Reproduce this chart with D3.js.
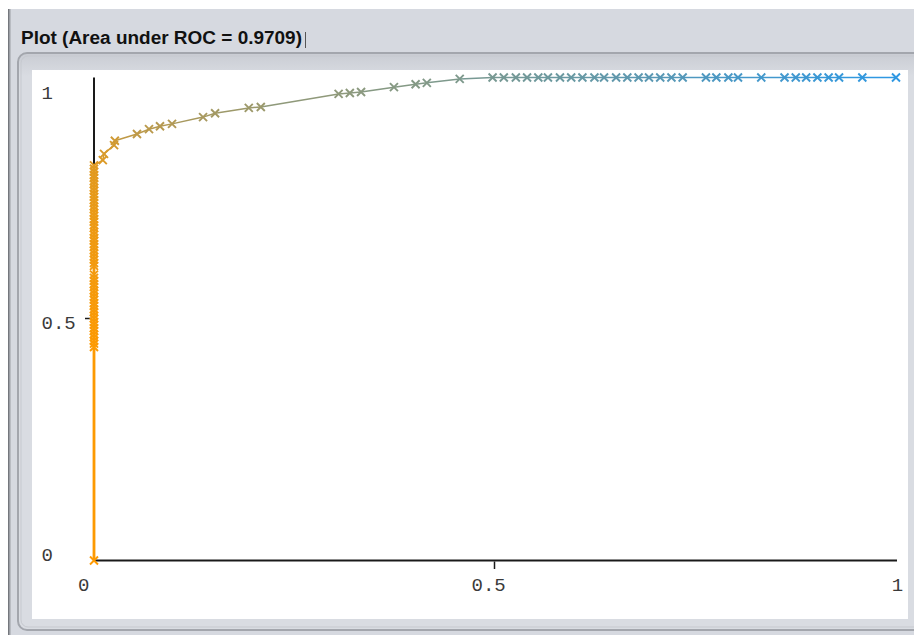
<!DOCTYPE html>
<html>
<head>
<meta charset="utf-8">
<script src="https://cdn.jsdelivr.net/npm/d3@7/dist/d3.min.js"></script>
<style>
  html, body { margin: 0; padding: 0; background: #ffffff; }
  svg { display: block; }
</style>
</head>
<body>
<svg id="chart" width="914" height="635"></svg>
<script>
// ---------------- data ----------------
const titleText = "Plot (Area under ROC = 0.9709)";

// first point of the curve (highest threshold)
const originPoint = { fpr: 0, tpr: 0, threshold: 1.0 };

// points on the vertical run at FPR = 0
const columnTpr = [
  0.442,0.449,0.455,0.462,0.468,0.475,0.481,0.488,0.494,0.501,0.507,0.514,
  0.520,0.527,0.533,0.540,0.546,0.553,0.559,0.566,0.572,0.579,0.585,0.592,
  0.610,0.616,0.623,0.629,0.636,0.642,0.649,0.655,0.662,0.668,0.675,0.681,
  0.688,0.694,0.701,0.707,0.714,0.720,0.727,0.733,0.740,0.746,0.753,0.759,
  0.766,0.772,0.779,0.785,0.792,0.798,0.805,0.811,0.818
];
const columnThreshold = [
  0.990,0.988,0.986,0.984,0.982,0.980,0.978,0.976,0.974,0.972,0.970,0.968,
  0.966,0.964,0.962,0.960,0.958,0.956,0.954,0.952,0.950,0.948,0.946,0.944,
  0.940,0.938,0.936,0.934,0.932,0.930,0.928,0.926,0.924,0.922,0.920,0.918,
  0.915,0.912,0.909,0.906,0.903,0.900,0.897,0.894,0.891,0.888,0.885,0.882,
  0.879,0.876,0.873,0.870,0.867,0.864,0.861,0.858,0.855
];

// remaining points of the curve
const curveFpr = [
  0.011,0.0125,0.025,0.026,
  0.0536,0.0686,0.0823,0.0973,0.136,0.151,0.193,0.208,
  0.305,0.319,0.333,0.374,0.401,0.415,0.456,
  0.497,0.511,0.526,0.540,0.554,0.566,0.581,0.595,0.609,0.624,0.636,0.651,
  0.665,0.679,0.692,0.706,0.720,0.734,
  0.763,0.776,0.791,0.803,0.832,0.861,0.875,0.888,0.902,0.916,0.929,0.958,1.0
];
const curveTpr = [
  0.829,0.842,0.860,0.869,
  0.883,0.893,0.899,0.904,0.918,0.926,0.937,0.939,
  0.966,0.968,0.970,0.980,0.986,0.989,0.997,
  1,1,1,1,1,1,1,1,1,1,1,1,
  1,1,1,1,1,1,
  1,1,1,1,1,1,1,1,1,1,1,1,1
];
const curveThreshold = [
  0.83,0.81,0.79,0.77,
  0.69,0.67,0.65,0.63,0.58,0.56,0.53,0.52,
  0.46,0.45,0.44,0.42,0.41,0.40,0.38,
  0.35,0.34,0.33,0.32,0.31,0.30,0.29,0.28,0.27,0.26,0.25,0.24,
  0.23,0.22,0.21,0.20,0.19,0.18,
  0.15,0.14,0.13,0.12,0.10,0.09,0.08,0.07,0.06,0.05,0.04,0.02,0.00
];

const xTickValues = [0, 0.5, 1];
const xTickLabels = ["0", "0.5", "1"];
const yTickValues = [0, 0.5, 1];
const yTickLabels = ["0", "0.5", "1"];

const lowColor = "#2f98e2";   // low threshold
const highColor = "#ff9a00";  // high threshold

// ---------------- build table ----------------
const points = [originPoint]
  .concat(columnTpr.map((t, i) => ({ fpr: 0, tpr: t, threshold: columnThreshold[i] })))
  .concat(curveFpr.map((f, i) => ({ fpr: f, tpr: curveTpr[i], threshold: curveThreshold[i] })));

// ---------------- layout ----------------
const svg = d3.select("#chart");
const W = 914, H = 635;

const x = d3.scaleLinear().domain([0, 1]).range([94, 896]);
const y = d3.scaleLinear().domain([0, 1]).range([560.5, 77.5]);
const color = d3.scaleLinear().domain([0, 1]).range([lowColor, highColor]).interpolate(d3.interpolateRgb);

// window background
svg.append("rect").attr("x", 0).attr("y", 0).attr("width", W).attr("height", H).attr("fill", "#ffffff");
svg.append("rect").attr("x", 9).attr("y", 9).attr("width", W - 9).attr("height", H - 9).attr("fill", "#d6d9e0");
svg.append("rect").attr("x", 8).attr("y", 9).attr("width", 1.6).attr("height", H - 9).attr("fill", "#74777d");
svg.append("rect").attr("x", 10).attr("y", 9).attr("width", 1).attr("height", H - 9).attr("fill", "#b9bcc2");

// title
svg.append("text")
  .attr("x", 21).attr("y", 44)
  .attr("font-family", "'Liberation Sans', Arial, sans-serif")
  .attr("font-weight", "bold")
  .attr("font-size", 18)
  .attr("textLength", 281)
  .attr("lengthAdjust", "spacingAndGlyphs")
  .attr("fill", "#111")
  .text(titleText);
svg.append("line").attr("x1", 305.5).attr("x2", 305.5).attr("y1", 32).attr("y2", 48)
  .attr("stroke", "#555").attr("stroke-width", 1);

// panel
const defs = svg.append("defs");
const grad = defs.append("linearGradient").attr("id", "pg").attr("x1", 0).attr("y1", 0).attr("x2", 0).attr("y2", 1);
grad.append("stop").attr("offset", "0%").attr("stop-color", "#c9ccd3");
grad.append("stop").attr("offset", "4%").attr("stop-color", "#d9dce2");
grad.append("stop").attr("offset", "100%").attr("stop-color", "#d9dce2");
svg.append("rect")
  .attr("x", 18).attr("y", 53).attr("width", 920).attr("height", 577).attr("rx", 9)
  .attr("fill", "url(#pg)").attr("stroke", "#a3a6ad").attr("stroke-width", 2);
svg.append("rect")
  .attr("x", 21).attr("y", 56).attr("width", 920).attr("height", 571).attr("rx", 7)
  .attr("fill", "none").attr("stroke", "#c6c9cf").attr("stroke-width", 1);
svg.append("rect").attr("x", 32).attr("y", 70).attr("width", 876).attr("height", 549).attr("fill", "#ffffff");

// axes
const g = svg.append("g");
g.append("line").attr("x1", x(0)).attr("x2", x(1) + 1).attr("y1", y(0)).attr("y2", y(0))
  .attr("stroke", "#1a1a1a").attr("stroke-width", 2);
g.append("line").attr("x1", x(0)).attr("x2", x(0)).attr("y1", y(1)).attr("y2", y(0))
  .attr("stroke", "#1a1a1a").attr("stroke-width", 2);

// ticks (only the middle value carries a tick mark)
g.append("line").attr("x1", x(0.5) - 0.5).attr("x2", x(0.5) - 0.5).attr("y1", y(0) + 1).attr("y2", y(0) + 8.5)
  .attr("stroke", "#1a1a1a").attr("stroke-width", 1.5);
g.append("line").attr("x1", x(0) - 9).attr("x2", x(0) - 3).attr("y1", y(0.5) - 0.5).attr("y2", y(0.5) - 0.5)
  .attr("stroke", "#1a1a1a").attr("stroke-width", 1.5);

const tickFont = "'Liberation Mono', 'Courier New', monospace";
const xLabelDx = [-10.3, -6.4, 1.5];
xTickValues.forEach((v, i) => {
  g.append("text")
    .attr("x", x(v) + xLabelDx[i]).attr("y", 591)
    .attr("text-anchor", "middle")
    .attr("font-family", tickFont).attr("font-size", 19)
    .attr("fill", "#3a3a3a")
    .text(xTickLabels[i]);
});
const yLabelDy = [0.5, 10, 21.5];
yTickValues.forEach((v, i) => {
  g.append("text")
    .attr("x", 41.5).attr("y", y(v) + yLabelDy[i])
    .attr("text-anchor", "start")
    .attr("font-family", tickFont).attr("font-size", 19)
    .attr("fill", "#3a3a3a")
    .text(yTickLabels[i]);
});

// curve segments, coloured by threshold
const segs = g.append("g");
for (let i = 1; i < points.length; i++) {
  const a = points[i - 1], b = points[i];
  const vertical = a.fpr === b.fpr;
  segs.append("line")
    .attr("x1", x(a.fpr)).attr("y1", y(a.tpr))
    .attr("x2", x(b.fpr)).attr("y2", y(b.tpr))
    .attr("stroke", color(b.threshold))
    .attr("stroke-width", vertical ? 2.8 : 1.5);
}

// cross markers
const s = 4;
const marks = g.append("g");
marks.selectAll("path")
  .data(points)
  .join("path")
  .attr("d", d => {
    const cx = x(d.fpr), cy = y(d.tpr);
    return `M${cx - s},${cy - s}L${cx + s},${cy + s}M${cx - s},${cy + s}L${cx + s},${cy - s}`;
  })
  .attr("stroke", d => color(d.threshold))
  .attr("stroke-width", 1.9)
  .attr("fill", "none");
</script>
</body>
</html>
